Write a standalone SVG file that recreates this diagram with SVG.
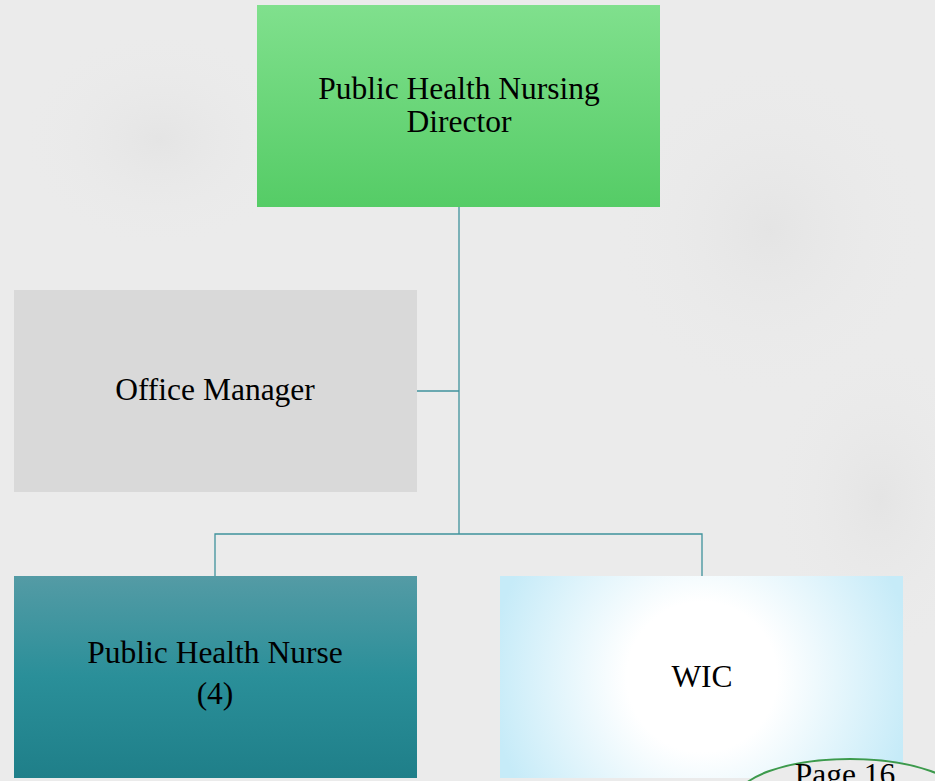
<svg xmlns="http://www.w3.org/2000/svg" width="935" height="781" viewBox="0 0 935 781">
<defs>
<linearGradient id="gDir" x1="0" y1="0" x2="0" y2="1"><stop offset="0" stop-color="#80e08d"/><stop offset="1" stop-color="#55cc66"/></linearGradient>
<linearGradient id="gPhn" x1="0" y1="0" x2="0" y2="1"><stop offset="0" stop-color="#549ba5"/><stop offset="0.5" stop-color="#2a8f99"/><stop offset="1" stop-color="#1f7f89"/></linearGradient>
<radialGradient id="gWic" gradientUnits="userSpaceOnUse" cx="702" cy="677" r="250"><stop offset="0.3" stop-color="#ffffff"/><stop offset="0.85" stop-color="#c6ebf8"/></radialGradient>
<radialGradient id="blob" cx="0.5" cy="0.5" r="0.5"><stop offset="0" stop-color="#e0e0e0" stop-opacity="0.6"/><stop offset="1" stop-color="#ebebeb" stop-opacity="0"/></radialGradient>
</defs>
<style>
.lbl{font-family:"Liberation Serif","Times New Roman",serif;font-size:31.5px;fill:#000;text-anchor:middle}
.conn{stroke:#3f929c;stroke-width:1.3;fill:none}
</style>
<rect width="935" height="781" fill="#ebebeb"/>
<ellipse cx="160" cy="140" rx="140" ry="110" fill="url(#blob)"/>
<ellipse cx="770" cy="230" rx="160" ry="170" fill="url(#blob)"/>
<ellipse cx="880" cy="500" rx="110" ry="160" fill="url(#blob)"/>
<g id="connectors">
<path class="conn" d="M459 207 V534"/>
<path class="conn" d="M417 391 H459"/>
<path class="conn" d="M215 576 V534 H702 V576"/>
</g>
<g id="director">
<rect x="257" y="5" width="403" height="202" fill="url(#gDir)"/>
<text class="lbl" x="459" y="99">Public Health Nursing</text>
<text class="lbl" x="459" y="132">Director</text>
</g>
<g id="office-manager">
<rect x="14" y="290" width="403" height="202" fill="#d9d9d9"/>
<text class="lbl" x="215" y="400">Office Manager</text>
</g>
<g id="phn">
<rect x="14" y="576" width="403" height="202" fill="url(#gPhn)"/>
<text class="lbl" x="215" y="663">Public Health Nurse</text>
<text class="lbl" x="215" y="704">(4)</text>
</g>
<g id="wic">
<rect x="500" y="576" width="403" height="202" fill="url(#gWic)"/>
<text class="lbl" x="702" y="687">WIC</text>
</g>
<g id="page">
<ellipse cx="850" cy="800" rx="114" ry="41" fill="#ebebeb" stroke="#3c9a4c" stroke-width="2"/>
<text class="lbl" x="845" y="785" font-size="26">Page 16</text>
</g>
</svg>
